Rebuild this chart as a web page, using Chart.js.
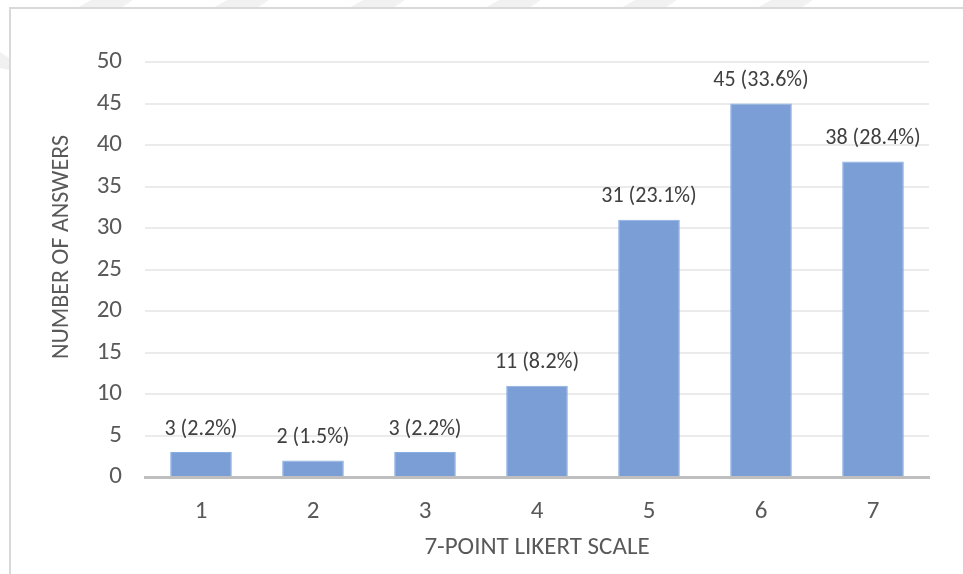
<!DOCTYPE html>
<html>
<head>
<meta charset="utf-8">
<title>Likert answers</title>
<script src="https://cdn.jsdelivr.net/npm/chart.js@4.4.1/dist/chart.umd.min.js"></script>
<style>
  html, body { margin: 0; padding: 0; background: #fff; }
  #wrap { width: 963px; height: 574px; position: relative; }
</style>
</head>
<body>
<div id="wrap"><canvas id="likertChart" width="963" height="574"></canvas></div>
<script>
const scalePoints = ["1", "2", "3", "4", "5", "6", "7"];
const answerCounts = [3, 2, 3, 11, 31, 45, 38];
const answerShares = ["2.2%", "1.5%", "2.2%", "8.2%", "23.1%", "33.6%", "28.4%"];
const yTicks = [0, 5, 10, 15, 20, 25, 30, 35, 40, 45, 50];
const yTitle = "NUMBER OF ANSWERS";

const FONT = "Carlito, 'Open Sans', sans-serif";
const TEXT = "#595959";

// faint page watermark and the frame around the chart
const framePlugin = {
  id: "frame",
  beforeDraw(chart) {
    const ctx = chart.ctx;
    ctx.save();
    ctx.fillStyle = "#f1f1f1";
    [77, 213, 349, 485, 621, 757].forEach((x) => {
      ctx.beginPath();
      ctx.moveTo(x + 14, 0);
      ctx.lineTo(x + 56, 0);
      ctx.lineTo(x + 44, 8);
      ctx.lineTo(x, 8);
      ctx.closePath();
      ctx.fill();
    });
    ctx.beginPath();
    ctx.moveTo(0, 52);
    ctx.lineTo(9, 58);
    ctx.lineTo(9, 70);
    ctx.lineTo(0, 68);
    ctx.closePath();
    ctx.fill();
    ctx.strokeStyle = "#d9d9d9";
    ctx.lineWidth = 2;
    ctx.strokeRect(10, 8, 980, 600);
    ctx.restore();
  },
};

// vertical axis title sits a bit above the middle of the axis
const yTitlePlugin = {
  id: "yTitle",
  afterDraw(chart) {
    const ctx = chart.ctx;
    const y = chart.scales.y;
    ctx.save();
    ctx.translate(62, y.getPixelForValue(27.7));
    ctx.rotate(-Math.PI / 2);
    ctx.font = "24px " + FONT;
    ctx.fillStyle = TEXT;
    ctx.textAlign = "center";
    ctx.textBaseline = "middle";
    ctx.fillText(yTitle, 0, 0);
    ctx.restore();
  },
};

// "n (p%)" above each bar
const valueLabels = {
  id: "valueLabels",
  afterDatasetsDraw(chart) {
    const ctx = chart.ctx;
    const meta = chart.getDatasetMeta(0);
    ctx.save();
    ctx.font = "22px " + FONT;
    ctx.fillStyle = "#404040";
    ctx.textAlign = "center";
    ctx.textBaseline = "middle";
    meta.data.forEach((bar, i) => {
      const txt = answerCounts[i] + " (" + answerShares[i] + ")";
      ctx.fillText(txt, bar.x, bar.y - 23);
    });
    ctx.restore();
  },
};

new Chart(document.getElementById("likertChart"), {
  type: "bar",
  data: {
    labels: scalePoints,
    datasets: [
      {
        data: answerCounts,
        backgroundColor: "#7b9ed6",
        borderColor: "#8aaee2",
        borderWidth: 1,
        categoryPercentage: 1,
        barPercentage: 0.55,
      },
    ],
  },
  options: {
    responsive: false,
    animation: false,
    layout: { padding: { left: 0, top: 62, right: 34, bottom: 0 } },
    plugins: {
      legend: { display: false },
      tooltip: { enabled: false },
    },
    scales: {
      x: {
        grid: { display: false, drawTicks: false },
        border: { display: true, color: "#bfbfbf", width: 3 },
        ticks: { color: TEXT, font: { family: FONT, size: 25 }, padding: 20 },
        title: {
          display: true,
          text: "7-POINT LIKERT SCALE",
          color: TEXT,
          font: { family: FONT, size: 25 },
          padding: { top: 0, bottom: 11 },
        },
        afterFit: (s) => { s.height = 97; },
      },
      y: {
        min: 0,
        max: 50,
        afterBuildTicks: (s) => { s.ticks = yTicks.map((v) => ({ value: v })); },
        grid: { color: "#ebebeb", lineWidth: 2, drawTicks: false },
        border: { display: false },
        ticks: { color: TEXT, font: { family: FONT, size: 25 }, padding: 23 },
        afterFit: (s) => { s.width = 145; },
      },
    },
  },
  plugins: [framePlugin, valueLabels, yTitlePlugin],
});
</script>
</body>
</html>
